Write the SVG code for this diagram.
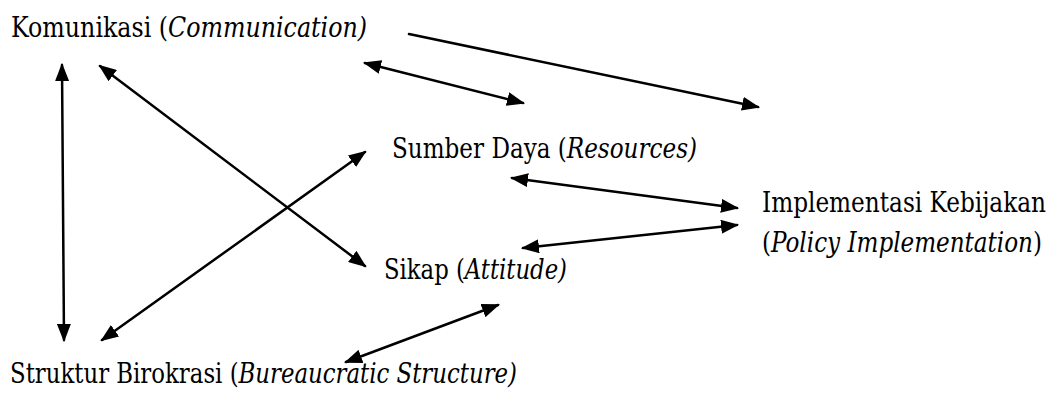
<svg xmlns="http://www.w3.org/2000/svg" width="1053" height="403" viewBox="0 0 1053 403">
<style>
text{font-family:'DejaVu Serif Condensed','DejaVu Serif',serif;font-stretch:condensed;font-size:27px;fill:#000}
.i{font-style:italic}
.c{fill:none;stroke:#000;stroke-width:2.5;stroke-linecap:round}
</style>
<defs>
<marker id="ah" markerUnits="userSpaceOnUse" markerWidth="18" markerHeight="14" viewBox="0 0 18 14" refX="16" refY="7" orient="auto-start-reverse">
<path d="M0,0 L18,7 L0,14 Z" fill="#000"/>
</marker>
</defs>
<rect width="1053" height="403" fill="#fff"/>
<g id="connectors">
<path class="c" d="M409,34 L758,107" marker-end="url(#ah)"/>
<path class="c" d="M365,63 L523,103" marker-start="url(#ah)" marker-end="url(#ah)"/>
<path class="c" d="M62,65 L64,340" marker-start="url(#ah)" marker-end="url(#ah)"/>
<path class="c" d="M100,66 L365,266" marker-start="url(#ah)" marker-end="url(#ah)"/>
<path class="c" d="M102,340 L365,152" marker-start="url(#ah)" marker-end="url(#ah)"/>
<path class="c" d="M512,178 L737,208" marker-start="url(#ah)" marker-end="url(#ah)"/>
<path class="c" d="M523,248 L737,225" marker-start="url(#ah)" marker-end="url(#ah)"/>
<path class="c" d="M346,362 L498,305" marker-start="url(#ah)" marker-end="url(#ah)"/>
</g>
<g id="komunikasi"><text x="11" y="37" textLength="356" lengthAdjust="spacingAndGlyphs">Komunikasi (<tspan class="i">Communication)</tspan></text></g>
<g id="sumber-daya"><text x="392" y="158" textLength="305" lengthAdjust="spacingAndGlyphs">Sumber Daya (<tspan class="i">Resources)</tspan></text></g>
<g id="sikap"><text x="384" y="279" textLength="183" lengthAdjust="spacingAndGlyphs">Sikap (<tspan class="i">Attitude)</tspan></text></g>
<g id="implementasi"><text x="762" y="212" textLength="284" lengthAdjust="spacingAndGlyphs">Implementasi Kebijakan</text><text x="762" y="252" textLength="280" lengthAdjust="spacingAndGlyphs">(<tspan class="i">Policy Implementation</tspan>)</text></g>
<g id="struktur"><text x="10" y="383" textLength="507" lengthAdjust="spacingAndGlyphs">Struktur Birokrasi (<tspan class="i">Bureaucratic Structure)</tspan></text></g>
</svg>
